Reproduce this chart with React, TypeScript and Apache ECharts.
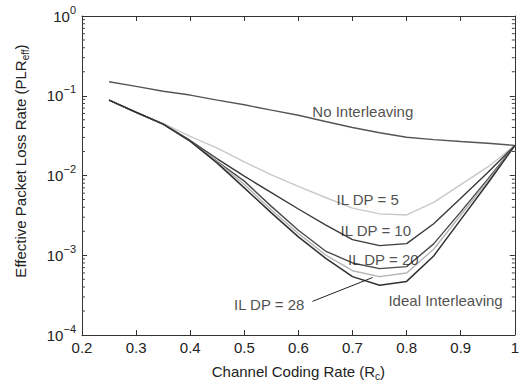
import React, { useEffect, useRef } from "react";
import * as echarts from "echarts";

const rates = [0.25, 0.3, 0.35, 0.4, 0.45, 0.5, 0.55, 0.6, 0.65, 0.7, 0.75, 0.8, 0.85, 0.9, 0.95, 1.0];
const noInterleaving = [0.15, 0.131, 0.114, 0.102, 0.088, 0.077, 0.066, 0.057, 0.0475, 0.04, 0.0344, 0.0302, 0.0282, 0.0267, 0.0254, 0.0238];
const ilDp5 = [0.088, 0.062, 0.045, 0.031, 0.022, 0.0148, 0.0102, 0.0073, 0.0053, 0.0039, 0.0033, 0.0032, 0.0046, 0.0077, 0.0128, 0.0238];
const ilDp10 = [0.088, 0.062, 0.044, 0.0275, 0.0162, 0.0098, 0.0061, 0.0038, 0.0024, 0.00157, 0.00132, 0.0014, 0.00248, 0.0052, 0.0109, 0.0238];
const ilDp20 = [0.088, 0.062, 0.044, 0.027, 0.015, 0.0085, 0.0041, 0.00206, 0.00113, 0.0008, 0.00068, 0.00072, 0.00139, 0.0035, 0.009, 0.0238];
const ilDp28 = [0.088, 0.062, 0.044, 0.027, 0.0147, 0.0077, 0.0037, 0.00187, 0.00101, 0.00064, 0.00054, 0.0006, 0.00119, 0.0032, 0.0085, 0.0238];
const idealInterleaving = [0.088, 0.062, 0.044, 0.027, 0.0143, 0.007, 0.0034, 0.0017, 0.00092, 0.00054, 0.00042, 0.00047, 0.00098, 0.0028, 0.008, 0.0238];

const xTickMin = 0.2;
const xTickMax = 1.0;
const xTickStep = 0.1;
const yMin = 1e-4;
const yMax = 1;

const annotationTexts = ["No Interleaving", "IL DP = 5", "IL DP = 10", "IL DP = 20", "IL DP = 28", "Ideal Interleaving"];
const annotationX = [0.719, 0.728, 0.743, 0.757, 0.546, 0.872];
const annotationY = [0.0642, 0.00503, 0.00207, 0.00088, 0.000243, 0.000272];
const arrowFrom = [0.626, 0.000264];
const arrowTo = [0.737, 0.000525];

const FONT = "'Liberation Sans', Arial, Helvetica, sans-serif";

export default function App() {
  const ref = useRef<HTMLDivElement>(null);
  useEffect(() => {
    if (!ref.current) return;
    const chart = echarts.init(ref.current, null, { renderer: "svg" });

    const minorTicks: number[][] = [];
    for (let e = -4; e < 0; e++) {
      for (let m = 2; m <= 9; m++) minorTicks.push([xTickMin, m * Math.pow(10, e)]);
    }

    const mk = (name: string, vals: number[], color: string, width = 1.4) => ({
      name,
      type: "line",
      data: rates.map((r, i) => [r, vals[i]]),
      showSymbol: false,
      smooth: false,
      lineStyle: { color, width },
      itemStyle: { color },
      z: 3,
    });

    const yLabel = (v: number) => {
      const e = Math.round(Math.log10(v));
      const s = e < 0 ? "\u2212" + Math.abs(e) : String(e);
      return `{b|10}{s|${s}}`;
    };

    const axisLine = { show: true, onZero: false, lineStyle: { color: "#333", width: 1 } };
    const axisTick = { show: true, inside: true, length: 5, lineStyle: { color: "#333" } };

    const option: any = {
      animation: false,
      backgroundColor: "#fff",
      grid: { left: 82, right: 1, top: 16, bottom: 48, containLabel: false },
      xAxis: [
        {
          type: "value",
          min: xTickMin,
          max: xTickMax,
          interval: xTickStep,
          position: "bottom",
          axisLine,
          axisTick,
          axisLabel: {
            fontSize: 15,
            color: "#222",
            fontFamily: FONT,
            margin: 5,
            formatter: (v: number) => String(Math.round(v * 10) / 10),
          },
          splitLine: { show: false },
          name: "{a|Channel Coding Rate (R}{sub|c}{a|)}",
          nameLocation: "middle",
          nameGap: 26,
          nameTextStyle: {
            rich: {
              a: { fontSize: 15, color: "#222", fontFamily: FONT, lineHeight: 20, verticalAlign: "middle" },
              sub: { fontSize: 10, color: "#222", fontFamily: FONT, lineHeight: 20, verticalAlign: "bottom" },
            },
          },
        },
        {
          type: "value",
          min: xTickMin,
          max: xTickMax,
          interval: xTickStep,
          position: "top",
          axisLine,
          axisTick,
          axisLabel: { show: false },
          splitLine: { show: false },
        },
      ],
      yAxis: [
        {
          type: "log",
          logBase: 10,
          min: yMin,
          max: yMax,
          position: "left",
          axisLine,
          axisTick,
          axisLabel: {
            margin: 6,
            formatter: yLabel,
            rich: {
              b: { fontSize: 15, color: "#222", fontFamily: FONT, lineHeight: 24, verticalAlign: "middle" },
              s: { fontSize: 11, color: "#222", fontFamily: FONT, lineHeight: 12, verticalAlign: "top" },
            },
          },
          splitLine: { show: false },
        },
        {
          type: "log",
          logBase: 10,
          min: yMin,
          max: yMax,
          position: "right",
          axisLine,
          axisTick,
          axisLabel: { show: false },
          splitLine: { show: false },
        },
      ],
      graphic: [
        {
          type: "text",
          x: 20,
          y: 161,
          rotation: Math.PI / 2,
          style: {
            text: "{a|Effective Packet Loss Rate (PLR}{sub|eff}{a|)}",
            align: "center",
            verticalAlign: "middle",
            rich: {
              a: { fontSize: 15, fill: "#222", fontFamily: FONT, lineHeight: 20, verticalAlign: "middle" },
              sub: { fontSize: 10, fill: "#222", fontFamily: FONT, lineHeight: 20, verticalAlign: "bottom" },
            },
          },
        },
      ],
      series: [
        mk("No Interleaving", noInterleaving, "#555555", 1.4),
        mk("IL DP = 5", ilDp5, "#c8c8c8", 1.4),
        mk("IL DP = 10", ilDp10, "#3a3a3a", 1.4),
        mk("IL DP = 20", ilDp20, "#4a4a4a", 1.4),
        mk("IL DP = 28", ilDp28, "#b4b4b4", 1.4),
        mk("Ideal Interleaving", idealInterleaving, "#303030", 1.5),
        {
          type: "custom",
          name: "minorTicks",
          data: minorTicks,
          silent: true,
          z: 4,
          renderItem: (params: any, api: any) => {
            const v = api.value(1);
            const l = api.coord([xTickMin, v]);
            const r = api.coord([xTickMax, v]);
            return {
              type: "group",
              children: [
                { type: "line", shape: { x1: l[0], y1: l[1], x2: l[0] + 3, y2: l[1] }, style: { stroke: "#444", lineWidth: 1 } },
                { type: "line", shape: { x1: r[0] - 3, y1: r[1], x2: r[0], y2: r[1] }, style: { stroke: "#444", lineWidth: 1 } },
              ],
            };
          },
        },
        {
          type: "scatter",
          name: "annotations",
          data: annotationTexts.map((t, i) => ({ name: t, value: [annotationX[i], annotationY[i]] })),
          symbolSize: 1,
          itemStyle: { color: "rgba(0,0,0,0)" },
          silent: true,
          z: 5,
          label: {
            show: true,
            position: "inside",
            formatter: (p: any) => p.name,
            fontSize: 15,
            color: "#222",
            fontFamily: FONT,
          },
          markLine: {
            silent: true,
            symbol: ["none", "arrow"],
            symbolSize: [0, 7],
            label: { show: false },
            lineStyle: { color: "#222", width: 1, type: "solid" },
            data: [[{ coord: arrowFrom }, { coord: arrowTo }]],
          },
        },
      ],
    };
    chart.setOption(option);
    return () => chart.dispose();
  }, []);
  return <div ref={ref} style={{ position: "absolute", left: 0, top: 0, width: 522, height: 386 }} />;
}
